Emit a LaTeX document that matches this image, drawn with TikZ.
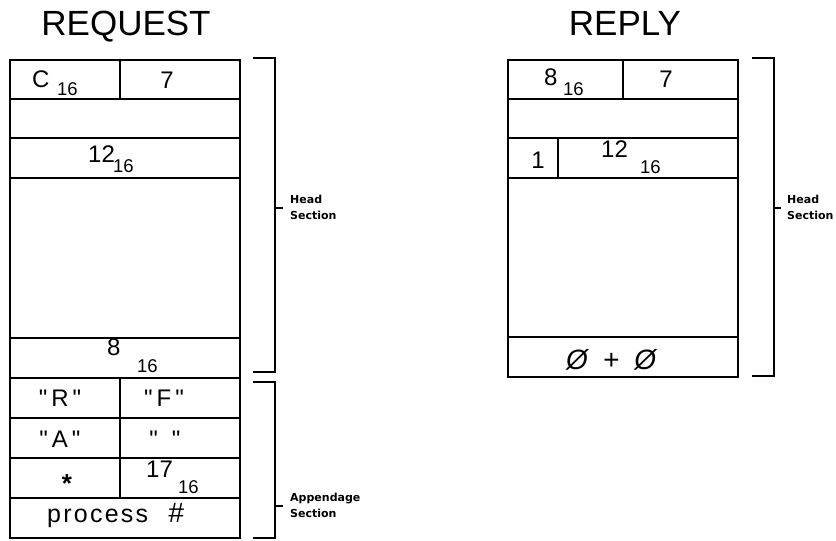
\documentclass[tikz,border=0pt]{standalone}
\usepackage{fontspec}
\setmainfont{Liberation Sans}[Ligatures=TeXOff]
\newfontfamily\lblfont{DejaVu Sans}
\begin{document}
\begin{tikzpicture}[x=1pt,y=-1pt,
  box/.style={line width=1.8pt},
  brk/.style={line width=2pt},
  big/.style={font=\fontsize{24}{24}\selectfont, inner sep=0pt, anchor=base west},
  bigc/.style={font=\fontsize{24}{24}\selectfont, inner sep=0pt, anchor=base},
  subs/.style={font=\fontsize{18.5}{18.5}\selectfont, inner sep=0pt, anchor=base west},
  ttl/.style={font=\fontsize{35}{35}\selectfont, inner sep=0pt, anchor=base},
  lbl/.style={font=\lblfont\fontsize{11}{16}\selectfont\bfseries, inner sep=0pt, align=left, anchor=west}]
\useasboundingbox (0,0) rectangle (836,541);
% titles
\node[ttl] (treq) at (126,35) {REQUEST};
\node[ttl] (trep) at (625,35) {REPLY};
% request box
\draw[box] (10,60) rectangle (240,538);
\foreach \y in {99,138,178,338,378,418,458,498} \draw[box] (10,\y) -- (240,\y);
\draw[box] (120,60) -- (120,99);
\draw[box] (120,378) -- (120,498);
% reply box
\draw[box] (508,60) rectangle (738,377);
\foreach \y in {99,138,178,337} \draw[box] (508,\y) -- (738,\y);
\draw[box] (623,60) -- (623,99);
\draw[box] (558,138) -- (558,178);
% brackets
\draw[brk] (253,58) -- (275,58) -- (275,372) -- (253,372);
\draw[brk] (275,208) -- (283,208);
\draw[brk] (253,382) -- (275,382) -- (275,538) -- (253,538);
\draw[brk] (275,506) -- (283,506);
\draw[brk] (752,58) -- (774,58) -- (774,376) -- (752,376);
\draw[brk] (774,208) -- (781,208);
\node[lbl] (lh1) at (290,207) {Head\\Section};
\node[lbl] (la1) at (290,505) {Appendage\\Section};
\node[lbl] (lh2) at (787,207) {Head\\Section};
% request contents
\node[big] (c) at (32,87) {C};
\node[subs] (c16) at (57,95) {16};
\node[bigc] (r7) at (167,88) {7};
\node[big] (r12) at (88,162) {12};
\node[subs] (r12s) at (113,172) {16};
\node[big] (r8) at (107,355) {8};
\node[subs] (r8s) at (137,372) {16};
\node[bigc] (qr) at (60,406) {"\,R\,"};
\node[bigc] (qf) at (164,406) {"\,F\,"};
\node[bigc] (qa) at (60,447) {"\,A\,"};
\node[bigc] (qs) at (165,447) {"\hspace{14pt}"};
\node[font=\fontsize{26}{26}\selectfont\bfseries, inner sep=0pt, anchor=base] (ast) at (67,492) {*};
\node[big] (r17) at (146,477) {17};
\node[subs] (r17s) at (178,493) {16};
\node[font=\fontsize{25}{25}\selectfont\addfontfeatures{LetterSpace=9}, inner sep=0pt, anchor=base west] (proc) at (47,522) {process\hspace{20pt}{\fontsize{28}{28}\selectfont\itshape\#}};
% reply contents
\node[big] (p8) at (544,85) {8};
\node[subs] (p8s) at (563,95) {16};
\node[bigc] (p7) at (666,87) {7};
\node[bigc] (p1) at (538,168) {1};
\node[big] (p12) at (601,157) {12};
\node[subs] (p12s) at (640,173) {16};
\node[font=\fontsize{28}{28}\selectfont\itshape, inner sep=0pt, anchor=base west] (oo) at (566,369) {Ø\hspace{15pt}+\hspace{15pt}Ø};
\end{tikzpicture}
\end{document}
